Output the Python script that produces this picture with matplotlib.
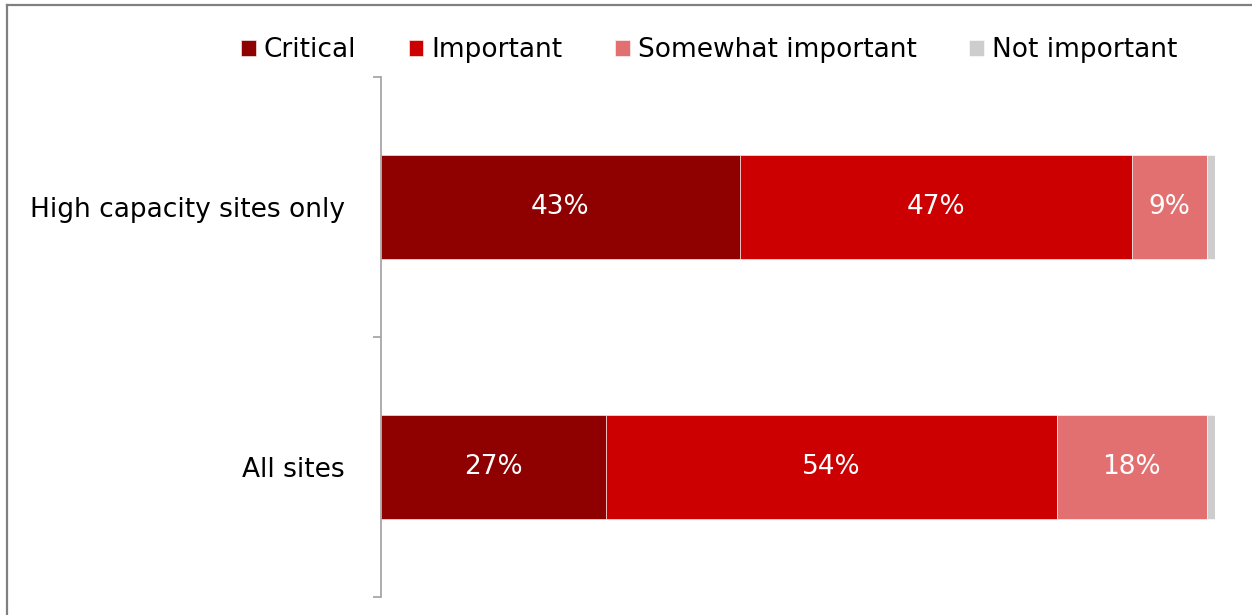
import numpy as np
import matplotlib.pyplot as plt
from matplotlib.lines import Line2D

# survey answers, share of respondents (%)
groups = ["All sites", "High capacity sites only"]
levels = ["Critical", "Important", "Somewhat important", "Not important"]
critical = [27, 43]
important = [54, 47]
somewhat = [18, 9]
not_important = [1, 1]
colors = ["#8f0000", "#cc0000", "#e37070", "#cdcdcd"]

plt.rcParams['font.family'] = ['DejaVu Sans']

W, H = 1252, 615
fig = plt.figure(figsize=(W / 100, H / 100), dpi=100)
ax = fig.add_axes([381 / W, 1 - 597 / H, (1215 - 381) / W, (597 - 77) / H])

y = np.arange(len(groups))
series = [critical, important, somewhat, not_important]
left = np.zeros(len(groups))
for name, vals, col in zip(levels, series, colors):
    vals = np.array(vals, dtype=float)
    ax.barh(y, vals, left=left, height=0.4, color=col, label=name,
            edgecolor="white", linewidth=0.4)
    if name != "Not important":
        for yi, v, l in zip(y, vals, left):
            ax.text(l + v / 2, yi, f"{v:.0f}%", ha="center", va="center",
                    color="white", fontsize=19)
    left += vals

ax.set_xlim(0, 100)
ax.set_ylim(-0.5, 1.5)
ax.set_xticks([])

# gray bracket axis with ticks between the categories
ax.set_yticks([-0.5, 0.5, 1.5])
ax.set_yticklabels([])
ax.set_yticks(y, minor=True)
ax.set_yticklabels(groups, minor=True)
ax.tick_params(axis="y", which="major", direction="out", length=6,
               width=1.2, color="#a0a0a0")
ax.tick_params(axis="y", which="minor", length=0, pad=26, labelsize=19)
for s in ["top", "right", "bottom"]:
    ax.spines[s].set_visible(False)
ax.spines["left"].set_color("#a0a0a0")
ax.spines["left"].set_linewidth(1.2)

fig.legend(loc="center", bbox_to_anchor=(709 / W, 1 - 50 / H), ncol=4,
           frameon=False, fontsize=19, handlelength=0.55,
           handleheight=0.55, handletextpad=0.3, columnspacing=2.0)

# outer frame lines
fig.add_artist(Line2D([7 / W, 1], [1 - 5 / H, 1 - 5 / H], color="#808080",
                      lw=1.6, transform=fig.transFigure))
fig.add_artist(Line2D([7 / W, 7 / W], [0, 1 - 5 / H], color="#808080",
                      lw=1.6, transform=fig.transFigure))

fig.savefig("out.png", dpi=100)
